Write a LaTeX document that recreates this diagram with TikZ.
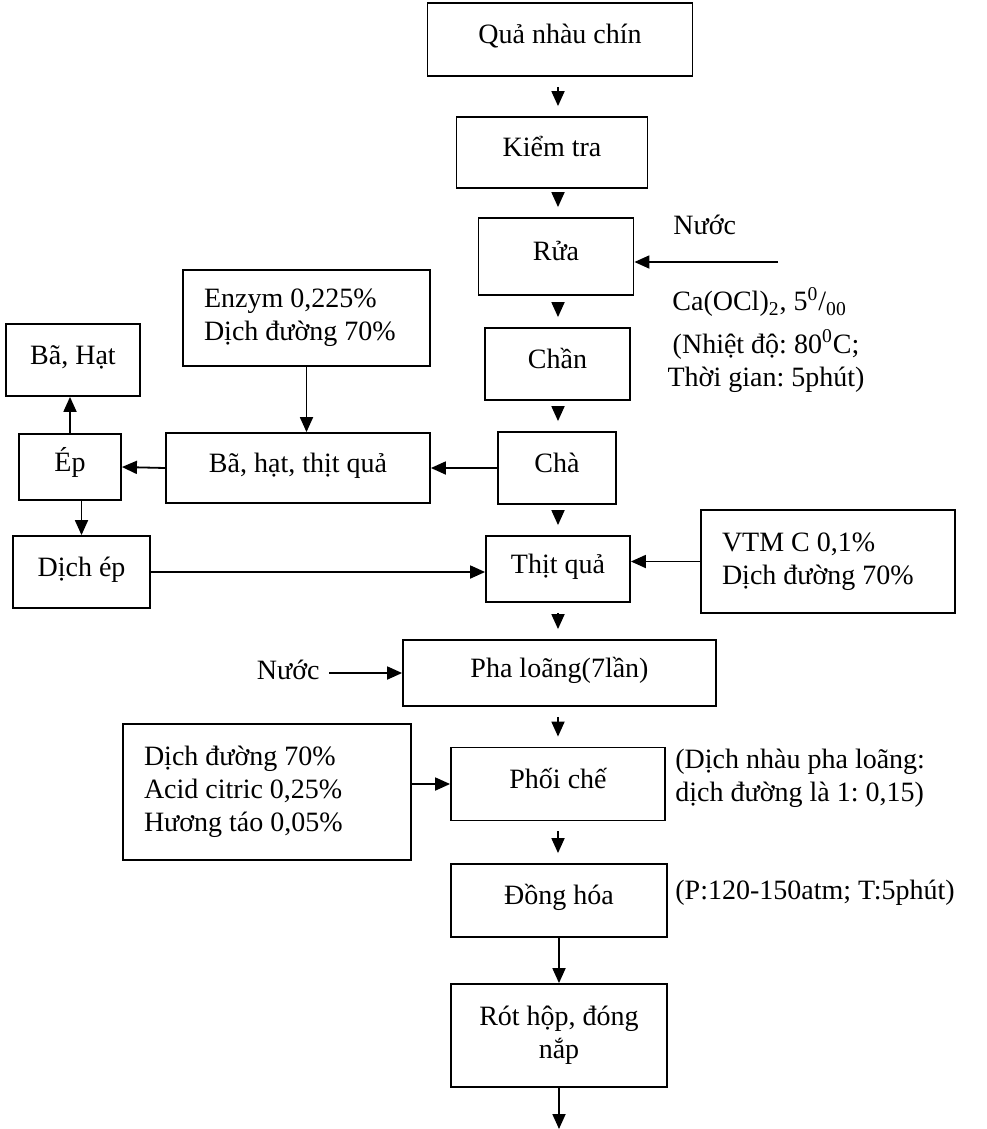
\documentclass[tikz,border=0pt]{standalone}
\usepackage{fontspec}
\setmainfont{Liberation Serif}
\usetikzlibrary{arrows.meta}
\frenchspacing
\tikzset{
    box/.style={draw, black, line width=0.9pt, inner sep=0pt, align=center},
    onebox/.style={box, text height=0.8em, text depth=0.38em},
    listbox/.style={draw, black, line width=0.9pt, inner xsep=10.5pt, inner ysep=0pt, align=flush left},
    lbl/.style={inner sep=0pt, align=left},
    arr/.style={black, line width=0.9pt, -{Triangle[length=7.5pt,width=6.5pt]}},
    gap/.style={shorten <=5pt, shorten >=5pt},
}
\begin{document}
\begin{tikzpicture}[x=0.5pt, y=-0.5pt, font=\fontsize{14pt}{16.5pt}\selectfont]
            \useasboundingbox (0,0) rectangle (986,1129);
            \coordinate (cx) at (558,0);
            % main line
            \node[onebox, minimum width=132.5pt, minimum height=36.5pt] (qua) at (560,39.5) {Quả nhàu chín};
            \node[onebox, minimum width=95.5pt, minimum height=35.5pt] (kiem) at (552,152.5) {Kiểm tra};
            \node[onebox, minimum width=77.5pt, minimum height=38.5pt] (rua) at (556,256.5) {Rửa};
            \node[onebox, minimum width=72.5pt, minimum height=36pt] (chan) at (557.5,364) {Chần};
            \node[onebox, minimum width=59pt, minimum height=36pt] (cha) at (557,468) {Chà};
            \node[onebox, minimum width=72pt, minimum height=33pt] (thit) at (558,569) {Thịt quả};
            \node[onebox, minimum width=156.5pt, minimum height=33pt] (pha) at (559.5,673) {Pha loãng(7lần)};
            \node[onebox, minimum width=107pt, minimum height=36.5pt] (phoi) at (558,784) {Phối chế};
            \node[onebox, minimum width=108pt, minimum height=36.5pt] (dong) at (559,900.5) {Đồng hóa};
            \node[box, minimum width=108pt, minimum height=51.5pt] (rot) at (559,1035.5) {Rót hộp, đóng\\nắp};
            \coordinate (out) at (559,1129);
            % left side
            \node[onebox, minimum width=132pt, minimum height=35pt] (bht) at (298,468) {Bã, hạt, thịt quả};
            \node[listbox, text width=102.5pt, minimum height=48pt] (enzym) at (306.5,318) {Enzym 0,225\%\\Dịch đường 70\%};
            \node[onebox, minimum width=67pt, minimum height=36pt] (bahat) at (73,360) {Bã, Hạt};
            \node[onebox, minimum width=51pt, minimum height=33pt] (ep) at (70,467) {Ép};
            \node[onebox, minimum width=68.5pt, minimum height=36pt] (dichep) at (81.5,572) {Dịch ép};
            \node[listbox, text width=106pt, minimum height=51.5pt] (vtm) at (828,561.5) {VTM C 0,1\%\\Dịch đường 70\%};
            \node[listbox, text width=123pt, minimum height=68pt] (dd) at (267,792) {Dịch đường 70\%\\Acid citric 0,25\%\\Hương táo 0,05\%};
            % notes
            \node[lbl, anchor=west] (nuoc1) at (673,225) {Nước};
            \coordinate (wsrc) at (778,262);
            \node[lbl, anchor=west] (caocl) at (672,302) {Ca(OCl)\textsubscript{2}, 5\textsuperscript{0}/\textsubscript{00}};
            \node[lbl, align=center] (nhiet) at (766,361) {(Nhiệt độ: 80\textsuperscript{0}C;\\Thời gian: 5phút)};
            \node[lbl, anchor=east] (nuoc2) at (320,670) {Nước};
            \node[lbl, anchor=west] (tyle) at (675,778) {(Dịch nhàu pha loãng:\\dịch đường là 1: 0,15)};
            \node[lbl, anchor=west] (dkdong) at (675,893) {(P:120-150atm; T:5phút)};
            % arrows
            \draw[arr, gap] (qua.south -| cx) -- (kiem.north -| cx);
            \draw[arr, gap] (kiem.south -| cx) -- (rua.north -| cx);
            \draw[arr, gap] (rua.south -| cx) -- (chan.north -| cx);
            \draw[arr, gap] (chan.south -| cx) -- (cha.north -| cx);
            \draw[arr, gap] (cha.south -| cx) -- (thit.north -| cx);
            \draw[arr, gap] (thit.south -| cx) -- (pha.north -| cx);
            \draw[arr, gap] (pha.south -| cx) -- (phoi.north -| cx);
            \draw[arr, gap] (phoi.south -| cx) -- (dong.north -| cx);
            \draw[arr] (dong.south) -- (rot.north);
            \draw[arr] (rot.south) -- (out);
            \draw[arr] (wsrc) -- (wsrc -| rua.east);
            \draw[arr] (cha.west) -- (bht.east);
            \draw[arr] (enzym.south) -- (enzym.south |- bht.north);
            \draw[arr] (bht.west) -- (ep.east);
            \draw[arr] (ep.north) -- (ep.north |- bahat.south);
            \draw[arr] (ep.south -| dichep.north) -- (dichep.north);
            \draw[arr] (dichep.east) -- (dichep.east -| thit.west);
            \draw[arr] (vtm.west) -- (vtm.west -| thit.east);
            \draw[arr, shorten <=4.5pt] (nuoc2.east |- pha.west) -- (pha.west);
            \draw[arr] (dd.east |- phoi.west) -- (phoi.west);
        \end{tikzpicture}
\end{document}
